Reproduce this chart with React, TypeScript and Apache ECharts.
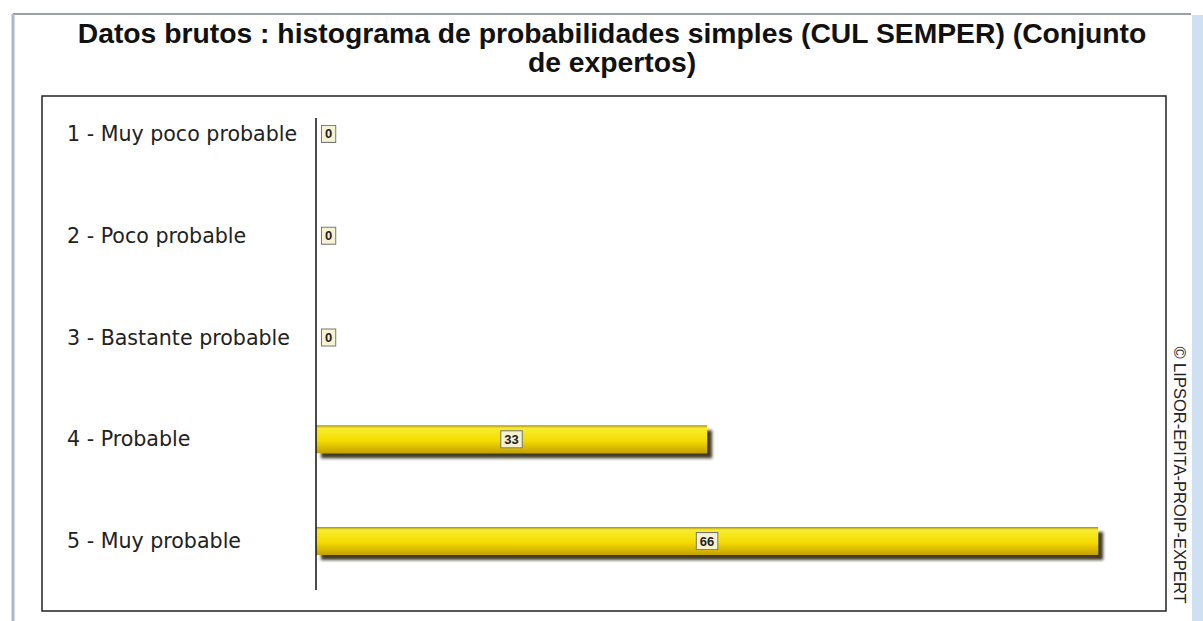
import React, { useEffect, useRef } from "react";
import * as echarts from "echarts";

const categories = [
  "1 - Muy poco probable",
  "2 - Poco probable",
  "3 - Bastante probable",
  "4 - Probable",
  "5 - Muy probable",
];
const values = [0, 0, 0, 33, 66];
const titleLines = [
  "Datos brutos : histograma de probabilidades simples (CUL SEMPER) (Conjunto",
  "de expertos)",
];
const copyright = "© LIPSOR-EPITA-PROIP-EXPERT";

export default function App() {
  const ref = useRef<HTMLDivElement>(null);
  useEffect(() => {
    if (!ref.current) return;
    const chart = echarts.init(ref.current, undefined, { renderer: "svg" });
    const barGradient = new echarts.graphic.LinearGradient(0, 0, 0, 1, [
      { offset: 0, color: "#a89018" },
      { offset: 0.1, color: "#f8ec30" },
      { offset: 0.55, color: "#f4dc00" },
      { offset: 1, color: "#c4a000" },
    ]);
    const titleStyle = {
      fontFamily: "Liberation Sans",
      fontWeight: "bold",
      fontSize: 28.3,
      fill: "#111",
      align: "center",
      verticalAlign: "middle",
    };
    chart.setOption({
      animation: false,
      backgroundColor: "#ffffff",
      grid: { left: 316, right: 57.5, top: 83, bottom: 29 },
      xAxis: { type: "value", min: 0, max: 70, show: false },
      yAxis: {
        type: "category",
        inverse: true,
        data: categories,
        axisLine: { show: false },
        axisTick: { show: false },
        splitLine: { show: false },
        axisLabel: {
          align: "left",
          margin: 249,
          fontFamily: "DejaVu Sans",
          fontSize: 20.6,
          color: "#222",
        },
      },
      series: [
        {
          type: "bar",
          data: values.map((v) => ({
            value: v,
            label: {
              show: true,
              position: v === 0 ? "right" : "inside",
              distance: 6,
            },
          })),
          barWidth: 28,
          itemStyle: {
            color: barGradient,
            shadowColor: "rgba(30,25,0,0.85)",
            shadowBlur: 3,
            shadowOffsetX: 5,
            shadowOffsetY: 5,
          },
          label: {
            show: true,
            formatter: "{c}",
            fontFamily: "Liberation Sans",
            fontSize: 13,
            fontWeight: "bold",
            color: "#222",
            backgroundColor: "#f6f2d2",
            borderColor: "#777",
            borderWidth: 1,
            padding: [2, 3, 1, 3],
          },
        },
      ],
      graphic: [
        {
          type: "line",
          shape: { x1: 13, y1: 14, x2: 1191, y2: 14 },
          style: { stroke: "#9aa0a8", lineWidth: 2 },
        },
        {
          type: "line",
          shape: { x1: 13, y1: 14, x2: 13, y2: 621 },
          style: { stroke: "#a9b8cc", lineWidth: 3 },
        },
        {
          type: "rect",
          shape: { x: 1192, y: 15, width: 11, height: 606 },
          style: { fill: "#cfe0f2" },
        },
        {
          type: "text",
          x: 612,
          y: 33,
          style: { ...titleStyle, text: titleLines[0] },
        },
        {
          type: "text",
          x: 612,
          y: 62,
          style: { ...titleStyle, text: titleLines[1] },
        },
        {
          type: "rect",
          shape: { x: 42, y: 96, width: 1124, height: 515 },
          style: { fill: "none", stroke: "#222", lineWidth: 1.5 },
          z: 10,
        },
        {
          type: "line",
          shape: { x1: 316, y1: 118, x2: 316, y2: 590 },
          style: { stroke: "#111", lineWidth: 1.5 },
          z: 10,
        },
        {
          type: "text",
          x: 1180,
          y: 475,
          rotation: -Math.PI / 2,
          style: {
            text: copyright,
            fontFamily: "Liberation Sans",
            fontSize: 16.5,
            fill: "#222",
            align: "center",
            verticalAlign: "middle",
          },
        },
      ],
    });
    return () => chart.dispose();
  }, []);
  return (
    <div
      ref={ref}
      style={{ position: "fixed", left: 0, top: 0, width: 1203, height: 621 }}
    />
  );
}
